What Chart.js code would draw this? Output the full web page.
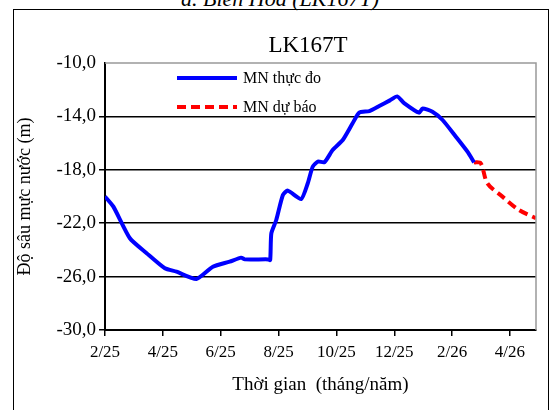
<!DOCTYPE html>
<html>
<head>
<meta charset="utf-8">
<script src="https://cdn.jsdelivr.net/npm/chart.js@4"></script>
<style>
  body { margin: 0; width: 560px; height: 410px; overflow: hidden; background: #fff; position: relative; }
  #box { position: absolute; left: 13px; top: 9px; width: 534px; height: 420px; border: 1.5px solid #000; }
  #cap { position: absolute; left: 0; width: 560px; top: -14px; text-align: center; font: italic 22px "Liberation Serif", serif; }
  canvas { position: absolute; left: 0; top: 0; }
</style>
</head>
<body>
<div id="cap">a. Biên Hòa (LK167T)</div>
<div id="box"></div>
<canvas id="c" width="560" height="410"></canvas>
<script>
// months since Feb 2025
const obsMonths = [0.0, 0.29, 0.86, 1.44, 2.07, 2.47, 3.16, 3.73, 4.31, 4.71, 4.83, 5.63, 5.71, 5.75, 5.92, 6.15, 6.32, 6.78, 7.01, 7.18, 7.36, 7.59, 7.87, 8.22, 8.56, 8.79, 9.14, 9.48, 9.85, 10.1, 10.34, 10.86, 10.98, 11.32, 11.67, 12.13, 12.53, 12.76];
const obsDepth = [-20.0, -20.76, -23.13, -24.25, -25.38, -25.63, -26.18, -25.26, -24.88, -24.58, -24.71, -24.71, -24.76, -22.76, -21.76, -19.89, -19.56, -20.19, -19.01, -17.77, -17.39, -17.42, -16.52, -15.77, -14.52, -13.72, -13.6, -13.22, -12.8, -12.5, -13.0, -13.72, -13.4, -13.65, -14.27, -15.52, -16.64, -17.44];
const fcMonths = [12.76, 12.99, 13.22, 13.74, 14.31, 14.9];
const fcDepth = [-17.44, -17.51, -19.01, -20.01, -21.01, -21.63];
const legendNames = ['MN thực đo', 'MN dự báo'];

const serif = '"Liberation Serif", "Times New Roman", serif';
const toXY = (xs, ys) => xs.map((x, i) => ({ x, y: ys[i] }));

const overlay = {
  id: 'overlay',
  afterDraw(chart) {
    const { ctx, chartArea: a } = chart;
    ctx.save();
    ctx.strokeStyle = '#999'; ctx.lineWidth = 1.5;
    ctx.beginPath(); ctx.moveTo(a.left, a.top); ctx.lineTo(a.right, a.top); ctx.lineTo(a.right, a.bottom); ctx.stroke();
    ctx.fillStyle = '#000'; ctx.font = '23px ' + serif; ctx.textAlign = 'center'; ctx.textBaseline = 'middle';
    ctx.fillText('LK167T', 308, 46);
    ctx.lineWidth = 4; ctx.lineCap = 'butt';
    ctx.strokeStyle = '#0000ff'; ctx.setLineDash([]);
    ctx.beginPath(); ctx.moveTo(177, 78); ctx.lineTo(237, 78); ctx.stroke();
    ctx.strokeStyle = '#ff0000'; ctx.setLineDash([9, 5]);
    ctx.beginPath(); ctx.moveTo(177, 107); ctx.lineTo(237, 107); ctx.stroke();
    ctx.setLineDash([]);
    ctx.font = '16px ' + serif; ctx.textAlign = 'left';
    ctx.fillText(legendNames[0], 243, 79);
    ctx.fillText(legendNames[1], 243, 108);
    ctx.restore();
  }
};

function draw() {
  new Chart(document.getElementById('c'), {
    type: 'line',
    data: {
      datasets: [
        { label: legendNames[0], data: toXY(obsMonths, obsDepth), borderColor: '#0000ff', borderWidth: 4, pointRadius: 0, tension: 0.2 },
        { label: legendNames[1], data: toXY(fcMonths, fcDepth), borderColor: '#ff0000', borderWidth: 4, borderDash: [9, 5], pointRadius: 0, tension: 0.3 },
      ],
    },
    options: {
      responsive: false,
      animation: false,
      layout: { padding: { top: 63, right: 24, left: 14, bottom: 10 } },
      plugins: { legend: { display: false }, tooltip: { enabled: false } },
      scales: {
        x: {
          type: 'linear', min: 0, max: 14.9,
          afterFit: (s) => { s.height = 70; },
          afterBuildTicks: (s) => { s.ticks = [0, 2, 4, 6, 8, 10, 12, 14].map((v) => ({ value: v })); },
          ticks: {
            color: '#000', font: { family: serif, size: 17 }, padding: 6, maxRotation: 0,
            callback: (v) => ((v + 1) % 12 + 1) + '/' + (25 + Math.floor((v + 1) / 12)),
          },
          grid: { drawOnChartArea: false, drawTicks: true, tickLength: 6, color: '#000', lineWidth: 1.5 },
          border: { color: '#000', width: 2 },
          title: { display: true, text: 'Thời gian  (tháng/năm)', color: '#000', font: { family: serif, size: 19 }, padding: { top: 8 } },
        },
        y: {
          min: -30, max: -10,
          afterFit: (s) => { s.width = 91; },
          ticks: { stepSize: 4, color: '#000', font: { family: serif, size: 19 }, padding: 3, callback: (v) => v.toFixed(1).replace('.', ',') },
          grid: { color: (c) => (c.tick && c.tick.value === -10 ? 'rgba(0,0,0,0)' : '#000'), lineWidth: 1.5, tickLength: 6 },
          border: { color: '#000', width: 2 },
          title: { display: true, text: 'Độ sâu mực nước (m)', color: '#000', font: { family: serif, size: 18 }, padding: 0 },
        },
      },
    },
    plugins: [overlay],
  });
}

document.fonts.load('17px "Liberation Serif"').then(draw, draw);
</script>
</body>
</html>
